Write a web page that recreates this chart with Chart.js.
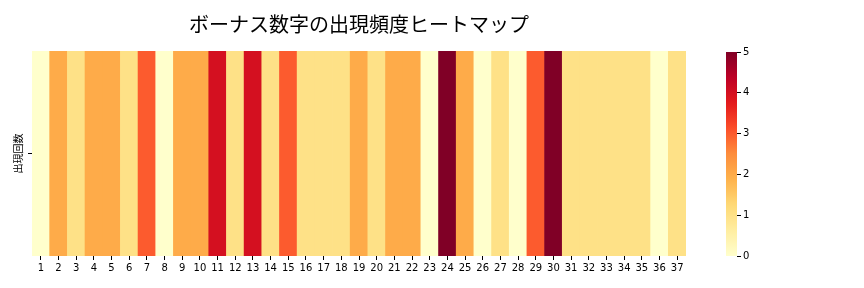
<!DOCTYPE html>
<html>
<head>
<meta charset="utf-8">
<script src="https://cdn.jsdelivr.net/npm/chart.js@4"></script>
<style>
  body { margin: 0; background: #fff; }
  #wrap { position: relative; width: 864px; height: 288px; }
  #main { position: absolute; left: 0; top: 0; }
  #cbar { position: absolute; left: 700px; top: 0; }
</style>
</head>
<body>
<div id="wrap">
  <canvas id="main" width="718" height="288"></canvas>
  <canvas id="cbar" width="80" height="288"></canvas>
</div>
<script>
// ボーナス数字と出現回数
const numbers = ['1','2','3','4','5','6','7','8','9','10','11','12','13','14','15','16','17','18','19',
                 '20','21','22','23','24','25','26','27','28','29','30','31','32','33','34','35','36','37'];
const counts = [0,2,1,2,2,1,3,0,2,2,4,1,4,1,3,1,1,1,2,1,2,2,0,5,2,0,1,0,3,5,1,1,1,1,1,0,1];
const rowLabels = ['出現回数'];
const colorTicks = [0, 1, 2, 3, 4, 5];
const vmin = 0, vmax = 5;

// YlOrRd
const ylorrd = ['#ffffcc','#ffeda0','#fed976','#feb24c','#fd8d3c','#fc4e2a','#e31a1c','#bd0026','#800026'];

function hexToRgb(h) {
  return [parseInt(h.substr(1,2),16), parseInt(h.substr(3,2),16), parseInt(h.substr(5,2),16)];
}

function colorFor(v) {
  let t = (v - vmin) / (vmax - vmin);
  t = Math.max(0, Math.min(1, t));
  const pos = t * (ylorrd.length - 1);
  const i = Math.min(Math.floor(pos), ylorrd.length - 2);
  const f = pos - i;
  const a = hexToRgb(ylorrd[i]), b = hexToRgb(ylorrd[i+1]);
  const c = a.map((x, k) => Math.round(x + (b[k] - x) * f));
  return `rgb(${c[0]}, ${c[1]}, ${c[2]})`;
}

const tickFont = { family: 'DejaVu Sans', size: 10 };

new Chart(document.getElementById('main'), {
  type: 'bar',
  data: {
    labels: numbers,
    datasets: [{
      label: rowLabels[0],
      data: counts.map(() => [0, 1]),
      backgroundColor: counts.map(colorFor),
      borderWidth: 0,
      barPercentage: 1,
      categoryPercentage: 1
    }]
  },
  options: {
    responsive: false,
    animation: false,
    layout: { padding: { left: 12, right: 32, top: 0, bottom: 0 } },
    plugins: {
      legend: { display: false },
      tooltip: { enabled: false },
      title: {
        display: true,
        fullSize: false,
        text: 'ボーナス数字の出現頻度ヒートマップ',
        color: '#000',
        font: { family: 'Noto Sans CJK JP', size: 20, weight: 'normal' },
        padding: { top: 12, bottom: 15 }
      }
    },
    scales: {
      x: {
        type: 'category',
        offset: true,
        border: { display: false },
        grid: { display: true, drawOnChartArea: false, offset: false, tickLength: 4, color: '#000' },
        ticks: { color: '#000', font: tickFont, maxRotation: 0, autoSkip: false, padding: 2 },
        afterFit: s => { s.height = 32; }
      },
      y: {
        type: 'linear',
        min: 0,
        max: 1,
        border: { display: false },
        grid: { display: true, drawOnChartArea: false, tickLength: 4, color: '#000' },
        afterBuildTicks: s => { s.ticks = [{ value: 0.5 }]; },
        ticks: { callback: () => '', padding: 0 },
        title: {
          display: true,
          text: rowLabels[0],
          color: '#000',
          font: { family: 'Noto Sans CJK JP', size: 10 },
          padding: { top: 0, bottom: 2 }
        },
        afterFit: s => { s.width = 20; }
      }
    }
  }
});

// カラーバー
const gradientPlugin = {
  id: 'gradientFill',
  beforeDatasetsDraw(chart) {
    const { ctx, chartArea } = chart;
    const ys = chart.scales.y;
    const g = ctx.createLinearGradient(0, ys.getPixelForValue(vmin), 0, ys.getPixelForValue(vmax));
    for (let k = 0; k <= 50; k++) {
      const v = vmin + (vmax - vmin) * k / 50;
      g.addColorStop(k / 50, colorFor(v));
    }
    ctx.save();
    ctx.fillStyle = g;
    ctx.fillRect(chartArea.left, chartArea.top, chartArea.right - chartArea.left, chartArea.bottom - chartArea.top);
    ctx.restore();
  }
};

new Chart(document.getElementById('cbar'), {
  type: 'bar',
  data: { labels: [''], datasets: [] },
  options: {
    responsive: false,
    animation: false,
    layout: { padding: { left: 26, right: 0, top: 52, bottom: 32 } },
    plugins: { legend: { display: false }, tooltip: { enabled: false } },
    scales: {
      x: { display: false },
      y: {
        type: 'linear',
        position: 'right',
        min: vmin,
        max: vmax,
        border: { display: false },
        grid: { display: true, drawOnChartArea: false, tickLength: 4, color: '#000' },
        afterBuildTicks: s => { s.ticks = colorTicks.map(v => ({ value: v })); },
        ticks: { color: '#000', font: tickFont, padding: 2 },
        afterFit: s => { s.width = 43; }
      }
    }
  },
  plugins: [gradientPlugin]
});
</script>
</body>
</html>
